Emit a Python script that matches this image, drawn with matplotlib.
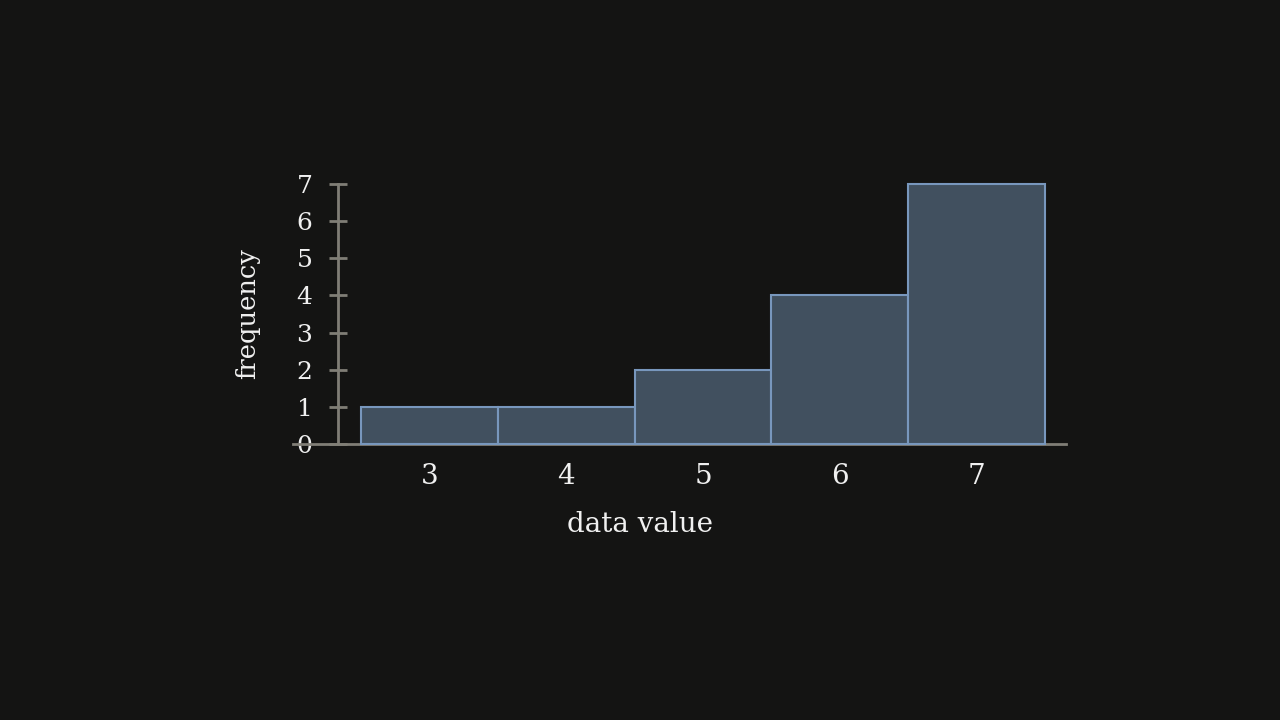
import numpy as np
import matplotlib
matplotlib.use("Agg")
import matplotlib.pyplot as plt

# histogram data
values = [3, 4, 5, 6, 7]
freqs = [1, 1, 2, 4, 7]
yticks = [0, 1, 2, 3, 4, 5, 6, 7]

BG = "#141413"
BAR = "#41505f"
EDGE = "#7897bd"
AXIS = "#807e76"
TXT = "#f0f0f0"

plt.rcParams["font.family"] = "DejaVu Serif"

fig = plt.figure(figsize=(12.8, 7.2), dpi=100, facecolor=BG)
ax = fig.add_axes([0, 0, 1, 1])
ax.set_facecolor(BG)

# map data units to the picture's pixel layout
ax.set_xlim(-0.139, 9.218)
ax.set_ylim(-7.431, 11.955)

ax.bar(values, freqs, width=1.0, color=BAR, edgecolor=EDGE, linewidth=1.5, zorder=3)

# axis lines
for s in ["top", "right"]:
    ax.spines[s].set_visible(False)
ax.spines["left"].set_position(("data", 2.332))
ax.spines["left"].set_bounds(0, 7)
ax.spines["bottom"].set_position(("data", 0))
ax.spines["bottom"].set_bounds(2.003, 7.654)
for s in ["left", "bottom"]:
    ax.spines[s].set_color(AXIS)
    ax.spines[s].set_linewidth(2)
    ax.spines[s].set_zorder(2)

ax.set_yticks(yticks)
ax.set_yticklabels([str(t) for t in yticks])
ax.tick_params(axis="y", direction="inout", length=13, width=2, color=AXIS,
               labelcolor=TXT, labelsize=18, pad=12)
ax.set_xticks(values)
ax.set_xticklabels([str(v) for v in values])
ax.tick_params(axis="x", length=0, labelcolor=TXT, labelsize=20, pad=14)

ax.set_xlabel("data value", color=TXT, fontsize=20)
ax.xaxis.label.set_va("center")
ax.xaxis.set_label_coords(0.5, 1 - 524 / 720)
ax.set_ylabel("frequency", color=TXT, fontsize=18.5)
ax.yaxis.label.set_va("center")
ax.yaxis.set_label_coords(248 / 1280, 1 - 314 / 720)

fig.savefig("out.png", dpi=100, facecolor=BG)
